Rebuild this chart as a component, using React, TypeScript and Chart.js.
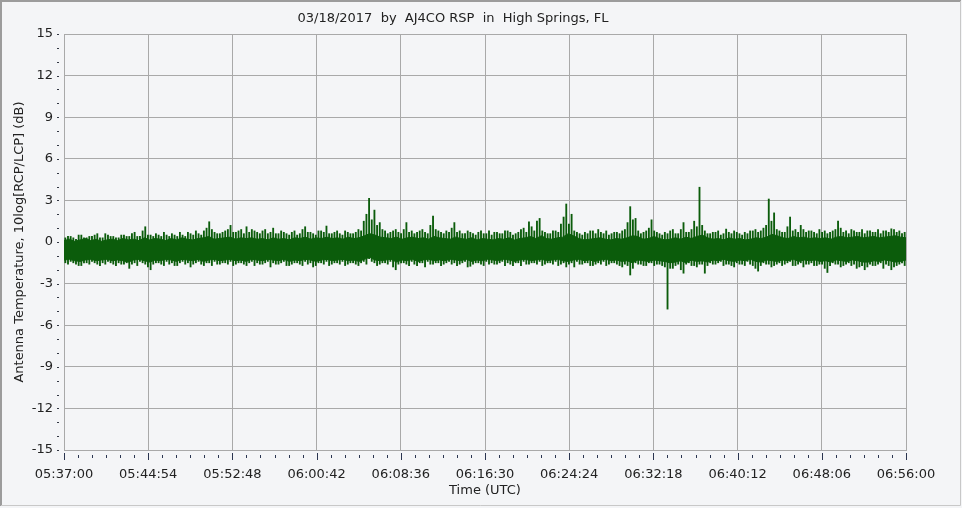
import React, { useEffect, useRef } from "react";
import { Chart, registerables } from "chart.js";

Chart.register(...registerables);

// ---- Data ----
const titleText = "03/18/2017  by  AJ4CO RSP  in  High Springs, FL";
const xAxisTitle = "Time (UTC)";
const yAxisTitle = "Antenna Temperature, 10log[RCP/LCP] (dB)";
const startSeconds = 5 * 3600 + 37 * 60; // 05:37:00
const spanSeconds = 4740; // to 06:56:00
const xMajorStep = 474; // 7:54
const xMinorStep = 79;
const yMin = -15;
const yMax = 15;
const yMajorStep = 3;

// peak excursions per 30 s bucket, first half of each bucket (dB)
const highs = [
  0.3, 0.4, 0.2, 0.5, 0.3, 0.4, 0.6, 0.3, 0.5, 0.4,
  0.3, 0.5, 0.4, 0.7, 0.4, 1.1, 0.5, 0.6, 0.4, 0.5,
  0.6, 0.4, 0.5, 0.7, 0.5, 0.6, 0.8, 1.46, 0.7, 0.6,
  0.8, 1.2, 0.7, 0.9, 1.1, 0.9, 0.7, 0.8, 0.6, 1.0,
  0.6, 0.7, 0.5, 0.8, 0.6, 1.1, 0.7, 0.5, 0.8, 1.15,
  0.6, 0.8, 0.5, 0.7, 0.6, 0.9, 1.5, 3.15, 2.3, 1.4,
  0.8, 0.7, 0.9, 0.6, 1.4, 0.8, 0.7, 0.9, 0.6, 1.87,
  0.8, 0.6, 0.7, 1.4, 0.8, 0.6, 0.7, 0.5, 0.8, 0.6,
  0.5, 0.7, 0.6, 0.8, 0.5, 0.7, 1.0, 1.46, 0.8, 1.7,
  0.7, 0.6, 0.8, 1.3, 2.74, 2.0, 0.7, 0.5, 0.6, 0.8,
  0.9, 0.6, 0.5, 0.7, 0.6, 0.9, 2.55, 1.7, 0.6, 0.8,
  1.6, 0.7, 0.5, 0.6, 0.9, 0.6, 1.4, 0.7, 1.5, 3.95,
  0.8, 0.6, 0.7, 0.5, 0.93, 0.6, 0.7, 0.5, 0.6, 0.8,
  0.7, 1.0, 3.1, 2.1, 0.8, 0.7, 1.8, 0.9, 1.2, 0.7,
  0.8, 0.6, 0.7, 0.6, 0.8, 1.5, 0.7, 0.6, 0.8, 0.7,
  0.6, 0.8, 0.7, 0.6, 0.8, 0.95, 0.7, 0.6,
];

const lows = [
  -1.5, -1.4, -1.6, -1.7, -1.5, -1.4, -1.6, -1.5, -1.4, -1.6,
  -1.5, -1.6, -1.9, -1.5, -1.4, -1.6, -2.0, -1.5, -1.6, -1.4,
  -1.5, -1.7, -1.4, -1.5, -1.6, -1.4, -1.7, -1.5, -1.4, -1.6,
  -1.5, -1.4, -1.6, -1.5, -1.7, -1.4, -1.5, -1.6, -1.4, -1.5,
  -1.6, -1.4, -1.7, -1.5, -1.6, -1.4, -1.5, -1.7, -1.5, -1.4,
  -1.6, -1.5, -1.4, -1.6, -1.5, -1.7, -1.4, -1.2, -1.5, -1.6,
  -1.5, -1.4, -2.0, -1.5, -1.6, -1.4, -1.7, -1.5, -1.4, -1.6,
  -1.5, -1.6, -1.4, -1.5, -1.6, -1.4, -1.75, -1.5, -1.6, -1.4,
  -1.5, -1.6, -1.4, -1.5, -1.7, -1.5, -1.4, -1.6, -1.5, -1.4,
  -1.6, -1.5, -1.4, -1.6, -1.8, -1.5, -1.4, -1.6, -1.5, -1.7,
  -1.5, -1.4, -1.6, -1.5, -1.7, -1.6, -2.38, -1.5, -1.6, -1.7,
  -1.5, -1.6, -1.7, -4.84, -1.9, -1.6, -2.25, -1.5, -1.7, -1.6,
  -2.25, -1.5, -1.6, -1.4, -1.6, -1.7, -1.5, -1.6, -1.4, -1.7,
  -2.1, -1.5, -1.6, -1.7, -1.5, -1.6, -1.4, -1.7, -1.5, -1.6,
  -1.5, -1.7, -1.6, -2.2, -1.5, -1.6, -1.7, -1.5, -1.6, -1.8,
  -2.0, -1.6, -1.7, -1.5, -1.6, -2.0, -1.7, -1.5,
];

// peak excursions, second half of each 30 s bucket (dB)
const highs2 = [
  0.4, 0.3, 0.5, 0.3, 0.4, 0.5, 0.3, 0.6, 0.4, 0.3,
  0.5, 0.4, 0.6, 0.4, 0.8, 0.5, 0.4, 0.5, 0.7, 0.4,
  0.5, 0.7, 0.4, 0.6, 0.8, 0.5, 1.0, 0.9, 0.6, 0.7,
  0.9, 0.7, 0.8, 0.6, 0.7, 0.8, 0.6, 0.9, 0.7, 0.6,
  0.8, 0.6, 0.7, 0.5, 0.9, 0.7, 0.6, 0.8, 0.7, 0.6,
  0.7, 0.6, 0.8, 0.6, 0.7, 0.8, 2.0, 1.6, 1.2, 0.9,
  0.6, 0.8, 0.7, 0.9, 0.7, 0.6, 0.8, 0.7, 1.2, 0.9,
  0.7, 0.8, 1.0, 0.7, 0.6, 0.8, 0.6, 0.7, 0.6, 0.8,
  0.7, 0.6, 0.8, 0.7, 0.6, 0.9, 0.7, 1.1, 1.5, 0.8,
  0.6, 0.8, 0.7, 1.8, 1.3, 0.8, 0.6, 0.7, 0.8, 0.6,
  0.7, 0.8, 0.6, 0.7, 0.8, 1.4, 1.6, 0.8, 0.7, 1.0,
  0.8, 0.6, 0.7, 0.8, 0.6, 0.9, 0.7, 0.9, 1.1, 1.2,
  0.6, 0.7, 0.8, 0.6, 0.7, 0.8, 0.6, 0.7, 0.8, 0.9,
  0.8, 1.2, 1.5, 0.9, 0.7, 1.1, 0.8, 0.7, 0.9, 0.8,
  0.7, 0.9, 0.8, 0.7, 0.9, 1.0, 0.8, 0.9, 0.7, 0.9,
  0.8, 0.7, 0.9, 0.8, 0.7, 0.9, 0.8, 0.7,
];

const lows2 = [
  -1.6, -1.5, -1.7, -1.5, -1.6, -1.5, -1.7, -1.6, -1.5, -1.7,
  -1.6, -1.5, -1.6, -1.7, -1.5, -1.8, -1.6, -1.5, -1.7, -1.6,
  -1.7, -1.5, -1.6, -1.8, -1.5, -1.6, -1.5, -1.7, -1.6, -1.5,
  -1.6, -1.7, -1.5, -1.6, -1.5, -1.7, -1.6, -1.5, -1.8, -1.6,
  -1.5, -1.7, -1.6, -1.5, -1.7, -1.6, -1.8, -1.5, -1.6, -1.7,
  -1.5, -1.6, -1.7, -1.5, -1.6, -1.5, -1.6, -1.4, -1.7, -1.5,
  -1.6, -1.8, -1.6, -1.5, -1.7, -1.6, -1.5, -1.8, -1.6, -1.5,
  -1.7, -1.5, -1.6, -1.7, -1.5, -1.8, -1.6, -1.5, -1.7, -1.6,
  -1.6, -1.5, -1.7, -1.6, -1.5, -1.7, -1.6, -1.5, -1.6, -1.7,
  -1.5, -1.6, -1.7, -1.5, -1.6, -1.8, -1.6, -1.5, -1.7, -1.6,
  -1.6, -1.7, -1.5, -1.6, -1.8, -1.7, -1.9, -1.6, -1.7, -1.5,
  -1.7, -1.6, -1.8, -1.9, -1.7, -2.0, -1.6, -1.7, -1.8, -1.6,
  -1.7, -1.6, -1.5, -1.7, -1.6, -1.8, -1.6, -1.7, -1.6, -1.9,
  -1.7, -1.6, -1.8, -1.6, -1.7, -1.5, -1.7, -1.6, -1.8, -1.6,
  -1.7, -1.6, -1.9, -1.7, -1.6, -1.8, -1.6, -1.7, -1.9, -1.7,
  -1.8, -1.7, -1.6, -1.9, -1.7, -1.8, -1.6, -1.7,
];

// dense noise band (upper / lower edge) per 30 s (dB)
const coreTop = [
  0.10, 0.20, 0.05, 0.15, 0.25, 0.10, 0.20, 0.05, 0.15, 0.20,
  0.10, 0.25, 0.15, 0.20, 0.10, 0.30, 0.15, 0.25, 0.20, 0.10,
  0.25, 0.15, 0.30, 0.20, 0.15, 0.25, 0.30, 0.40, 0.20, 0.25,
  0.30, 0.35, 0.20, 0.30, 0.25, 0.30, 0.20, 0.25, 0.15, 0.30,
  0.20, 0.25, 0.15, 0.30, 0.25, 0.35, 0.20, 0.30, 0.25, 0.35,
  0.25, 0.30, 0.20, 0.35, 0.25, 0.30, 0.45, 0.60, 0.50, 0.35,
  0.30, 0.25, 0.35, 0.20, 0.30, 0.35, 0.25, 0.30, 0.20, 0.40,
  0.30, 0.25, 0.20, 0.35, 0.25, 0.20, 0.30, 0.15, 0.25, 0.20,
  0.15, 0.25, 0.20, 0.30, 0.15, 0.25, 0.30, 0.40, 0.25, 0.45,
  0.25, 0.20, 0.30, 0.35, 0.60, 0.45, 0.25, 0.15, 0.20, 0.25,
  0.30, 0.20, 0.15, 0.25, 0.20, 0.30, 0.45, 0.40, 0.20, 0.25,
  0.40, 0.25, 0.15, 0.20, 0.30, 0.20, 0.35, 0.25, 0.40, 0.50,
  0.30, 0.20, 0.25, 0.15, 0.30, 0.20, 0.25, 0.15, 0.20, 0.30,
  0.25, 0.35, 0.55, 0.45, 0.30, 0.25, 0.40, 0.30, 0.35, 0.25,
  0.30, 0.25, 0.30, 0.20, 0.35, 0.40, 0.30, 0.35, 0.40, 0.30,
  0.35, 0.40, 0.30, 0.35, 0.40, 0.45, 0.35, 0.30,
];

const coreBottom = [
  -1.30, -1.25, -1.35, -1.40, -1.30, -1.25, -1.35, -1.30, -1.25, -1.35,
  -1.30, -1.35, -1.45, -1.30, -1.25, -1.35, -1.45, -1.30, -1.35, -1.25,
  -1.30, -1.40, -1.25, -1.30, -1.35, -1.25, -1.40, -1.30, -1.25, -1.35,
  -1.30, -1.25, -1.35, -1.30, -1.40, -1.25, -1.30, -1.35, -1.25, -1.30,
  -1.35, -1.25, -1.40, -1.30, -1.35, -1.25, -1.30, -1.40, -1.30, -1.25,
  -1.35, -1.30, -1.25, -1.35, -1.30, -1.40, -1.25, -1.10, -1.30, -1.35,
  -1.30, -1.25, -1.45, -1.30, -1.35, -1.25, -1.40, -1.30, -1.25, -1.35,
  -1.30, -1.35, -1.25, -1.30, -1.35, -1.25, -1.40, -1.30, -1.35, -1.25,
  -1.30, -1.35, -1.25, -1.30, -1.40, -1.30, -1.25, -1.35, -1.30, -1.25,
  -1.35, -1.30, -1.25, -1.35, -1.40, -1.30, -1.25, -1.35, -1.30, -1.40,
  -1.30, -1.25, -1.35, -1.30, -1.40, -1.35, -1.50, -1.30, -1.35, -1.40,
  -1.30, -1.35, -1.40, -1.50, -1.45, -1.35, -1.50, -1.30, -1.40, -1.35,
  -1.45, -1.30, -1.35, -1.25, -1.35, -1.40, -1.30, -1.35, -1.25, -1.40,
  -1.45, -1.30, -1.35, -1.40, -1.30, -1.35, -1.25, -1.40, -1.30, -1.35,
  -1.30, -1.40, -1.35, -1.45, -1.30, -1.35, -1.40, -1.30, -1.35, -1.45,
  -1.45, -1.35, -1.40, -1.30, -1.35, -1.45, -1.40, -1.30,
];

// ---- helpers ----
const FONT = "'DejaVu Sans', Verdana, sans-serif";
const FS = 13;
const GREEN = "#0b5c0b";
const pad2 = (n: number) => (n < 10 ? "0" : "") + n;
const fmtTime = (v: number) => {
  const s = Math.round(startSeconds + v);
  return `${pad2(Math.floor(s / 3600))}:${pad2(Math.floor((s % 3600) / 60))}:${pad2(s % 60)}`;
};

const bucket = spanSeconds / highs.length;
const coreX = (i: number) => (i * spanSeconds) / (coreTop.length - 1);
const topPoints = coreTop.map((y, i) => ({ x: coreX(i), y }));
const bottomPoints = coreBottom.map((y, i) => ({ x: coreX(i), y }));
const spikeBars = highs.map((h, i) => ({ x: (i + 0.25) * bucket, y: [lows[i], h] }));
const spikeBars2 = highs2.map((h, i) => ({ x: (i + 0.75) * bucket, y: [lows2[i], h] }));

const decorPlugin = {
  id: "decor",
  beforeDraw(chart: any) {
    const ctx = chart.ctx;
    ctx.save();
    ctx.fillStyle = "#f4f5f7";
    ctx.fillRect(0, 0, chart.width, chart.height);
    ctx.restore();
  },
  afterDraw(chart: any) {
    const ctx = chart.ctx;
    const xs = chart.scales.x;
    const ys = chart.scales.y;
    const area = chart.chartArea;
    ctx.save();
    ctx.strokeStyle = "#333844";
    ctx.lineWidth = 1;
    for (let v = yMin; v <= yMax; v++) {
      const y = Math.round(ys.getPixelForValue(v)) + 0.5;
      ctx.beginPath();
      ctx.moveTo(area.left - 7, y);
      ctx.lineTo(area.left - 5, y);
      ctx.stroke();
    }
    for (let t = 0; t <= spanSeconds + 0.1; t += xMinorStep) {
      const x = Math.round(xs.getPixelForValue(t)) + 0.5;
      const major = Math.round(t) % xMajorStep === 0;
      ctx.strokeStyle = "#2a3550";
      ctx.beginPath();
      ctx.moveTo(x, area.bottom + (major ? 3 : 5));
      ctx.lineTo(x, area.bottom + (major ? 10 : 8));
      ctx.stroke();
    }
    ctx.strokeStyle = "#9c9c9c";
    ctx.lineWidth = 2;
    ctx.beginPath();
    ctx.moveTo(1, 506);
    ctx.lineTo(1, 1);
    ctx.lineTo(961, 1);
    ctx.stroke();
    ctx.strokeStyle = "#c8c8c8";
    ctx.lineWidth = 1;
    ctx.beginPath();
    ctx.moveTo(960.5, 1);
    ctx.lineTo(960.5, 505.5);
    ctx.lineTo(1, 505.5);
    ctx.stroke();
    ctx.restore();
  },
};

const barStyle = {
  type: "bar",
  backgroundColor: GREEN,
  borderWidth: 0,
  barThickness: 1.2,
  grouped: false,
};

export default function App() {
  const ref = useRef<HTMLCanvasElement | null>(null);
  useEffect(() => {
    if (!ref.current) return;
    const chart = new Chart(ref.current, {
      type: "line",
      data: {
        datasets: [
          {
            type: "line",
            data: topPoints,
            borderColor: GREEN,
            backgroundColor: GREEN,
            borderWidth: 1,
            pointRadius: 0,
            tension: 0,
            fill: false,
          },
          {
            type: "line",
            data: bottomPoints,
            borderColor: GREEN,
            backgroundColor: GREEN,
            borderWidth: 1,
            pointRadius: 0,
            tension: 0,
            fill: "-1",
          },
          { ...barStyle, data: spikeBars },
          { ...barStyle, data: spikeBars2 },
        ],
      },
      plugins: [decorPlugin],
      options: {
        animation: false,
        responsive: false,
        maintainAspectRatio: false,
        layout: { padding: { left: 0, right: 56, top: 0, bottom: 0 } },
        plugins: {
          legend: { display: false },
          tooltip: { enabled: false },
          filler: { propagate: false },
          title: {
            display: true,
            text: titleText,
            color: "#222",
            font: { family: FONT, size: FS, weight: "normal" },
            padding: { top: 11, bottom: 7.4 },
          },
        },
        scales: {
          x: {
            type: "linear",
            min: 0,
            max: spanSeconds,
            offset: false,
            afterBuildTicks: (scale: any) => {
              const t = [];
              for (let v = 0; v <= spanSeconds; v += xMajorStep) t.push({ value: v });
              scale.ticks = t;
            },
            afterFit: (scale: any) => {
              scale.height = 58;
            },
            ticks: {
              autoSkip: false,
              maxRotation: 0,
              padding: 17,
              color: "#222",
              font: { family: FONT, size: FS },
              callback: (v: any) => fmtTime(Number(v)),
            },
            grid: { color: "#a9a9a9", lineWidth: 1, drawTicks: false, offset: false },
            border: { color: "#a9a9a9", width: 1 },
            title: {
              display: true,
              text: xAxisTitle,
              color: "#222",
              font: { family: FONT, size: FS },
              padding: { top: 10, bottom: 10 },
            },
          },
          y: {
            min: yMin,
            max: yMax,
            afterFit: (scale: any) => {
              scale.width = 64;
            },
            ticks: {
              stepSize: yMajorStep,
              padding: 11,
              color: "#222",
              font: { family: FONT, size: FS },
              callback: (v: any) => String(v),
            },
            grid: { color: "#a9a9a9", lineWidth: 1, drawTicks: false },
            border: { color: "#a9a9a9", width: 1 },
            title: {
              display: true,
              text: yAxisTitle,
              color: "#222",
              font: { family: FONT, size: FS },
              padding: { top: 12, bottom: 12 },
            },
          },
        },
      },
    } as any);
    return () => chart.destroy();
  }, []);
  return (
    <div style={{ position: "fixed", left: 0, top: 0, width: 962, height: 508 }}>
      <canvas ref={ref} width={962} height={508} style={{ width: 962, height: 508, display: "block" }} />
    </div>
  );
}
